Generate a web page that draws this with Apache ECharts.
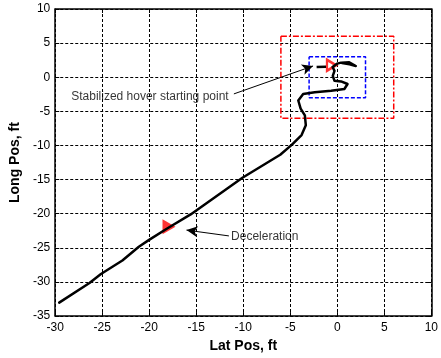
<!DOCTYPE html>
<html><head><meta charset="utf-8">
<script src="https://cdn.jsdelivr.net/npm/echarts@6/dist/echarts.min.js"></script>
<style>html,body{margin:0;padding:0;background:#fff}#c{width:441px;height:358px}</style>
</head><body><div id="c"></div>
<script>
// Trajectory (Lat Pos, Long Pos) in ft
const latPos  = [-29.58,-26.36,-25.14,-22.86,-21.11,-20.06,-18.14,-15.6,-10.09,-6.07,-4.85,-3.8,-3.35,-3.45,-3.9,-4.15,-3.63,-2.4,-0.65,0.75,1.09,0.4,-0.3,-0.48,-0.3,-0.5,0.0,0.4,1.27,1.97,1.3,0.5];
const longPos = [-33.03,-30.14,-28.84,-26.86,-24.84,-23.87,-22.2,-20.1,-14.73,-11.36,-9.91,-8.47,-7.02,-5.58,-4.6,-3.41,-2.44,-2.2,-1.97,-1.72,-0.99,-0.61,-0.52,0.2,0.93,1.5,2.0,2.14,2.18,1.65,1.9,2.1];
const stubLat = [-2.2,-1.2];
const stubLong = [1.5,1.55];
// Boxes
const redBoxLat  = [-6, 6, 6, -6, -6];
const redBoxLong = [6, 6, -6, -6, 6];
const blueBoxLat  = [-3, 3, 3, -3, -3];
const blueBoxLong = [3, 3, -3, -3, 3];
// Markers
const decelPoint = [-17.9, -21.9];
const hoverPoint = [-0.62, 1.75];
// Annotations
const annoTexts = ["Stabilized hover starting point", "Deceleration"];
const annoTextPos = [[-28.3, -2.83], [-11.3, -23.4]];
const annoArrows = [[[-11.0, -2.44], [-2.58, 1.65]], [[-11.53, -23.25], [-16.04, -22.4]]];
// Axes
const xTicks = [-30, 10, 5];
const yTicks = [-35, 10, 5];
const xName = "Lat Pos, ft";
const yName = "Long Pos, ft";

const zip = (a, b) => a.map((v, i) => [v, b[i]]);
const font = "Liberation Sans, Arial, sans-serif";
const chart = echarts.init(document.getElementById('c'));
const axCommon = {
  type: 'value', interval: 5,
  axisLine: {show: true, onZero: false, lineStyle: {color: '#000', width: 1.5}},
  axisTick: {show: true, inside: true, length: 4, lineStyle: {color: '#000'}},
};
chart.setOption({
  animation: false,
  grid: {left: 52, right: 8, top: 9, bottom: 38},
  xAxis: [
    Object.assign({}, axCommon, {min: xTicks[0], max: xTicks[1], position: 'bottom',
      name: xName, nameLocation: 'middle', nameGap: 21,
      nameTextStyle: {fontFamily: font, fontWeight: 'bold', fontSize: 14, color: '#000'},
      axisLabel: {fontFamily: font, fontSize: 12, color: '#000', margin: 6},
      splitLine: {show: true, lineStyle: {color: '#000', type: [3, 2], width: 1}}}),
    Object.assign({}, axCommon, {min: xTicks[0], max: xTicks[1], position: 'top',
      axisLabel: {show: false}, splitLine: {show: false}})
  ],
  yAxis: [
    Object.assign({}, axCommon, {min: yTicks[0], max: yTicks[1], position: 'left',
      name: yName, nameLocation: 'middle', nameGap: 24,
      nameTextStyle: {fontFamily: font, fontWeight: 'bold', fontSize: 14, color: '#000'},
      axisLabel: {fontFamily: font, fontSize: 12, color: '#000', margin: 5},
      splitLine: {show: true, lineStyle: {color: '#000', type: [3, 2], width: 1}}}),
    Object.assign({}, axCommon, {min: yTicks[0], max: yTicks[1], position: 'right',
      axisLabel: {show: false}, splitLine: {show: false}})
  ],
  series: [
    {type: 'line', data: zip(redBoxLat, redBoxLong), symbol: 'none', silent: true,
      lineStyle: {color: '#ff0000', width: 1.5, type: [6, 2, 2, 2]}},
    {type: 'line', data: zip(blueBoxLat, blueBoxLong), symbol: 'none', silent: true,
      lineStyle: {color: '#0000ff', width: 1.5, type: [4, 2]}},
    {type: 'line', data: zip(latPos, longPos), symbol: 'none',
      lineStyle: {color: '#000', width: 2.5, join: 'round', cap: 'round'},
      markLine: {silent: true, symbol: ['none', 'arrow'], symbolSize: [8, 11],
        label: {show: false},
        lineStyle: {color: '#000', width: 1, type: 'solid'},
        data: annoArrows.map(a => [{coord: a[0]}, {coord: a[1]}])}},
    {type: 'line', data: zip(stubLat, stubLong), symbol: 'none', lineStyle: {color: '#000', width: 2.5}},
    {type: 'scatter', data: [decelPoint], symbol: 'triangle', symbolRotate: -90, symbolSize: [15, 13],
      itemStyle: {color: '#ff0000'}},
    {type: 'scatter', data: [hoverPoint], symbol: 'triangle', symbolRotate: -90, symbolSize: [11, 9],
      itemStyle: {color: 'rgba(255,255,255,0)', borderColor: '#ff0000', borderWidth: 2.5}},
    {type: 'scatter', data: annoTextPos, symbolSize: 0, silent: true,
      label: {show: true, position: 'right', distance: 0,
        formatter: p => annoTexts[p.dataIndex],
        fontFamily: font, fontSize: 12, color: '#000'}}
  ]
});
</script></body></html>
